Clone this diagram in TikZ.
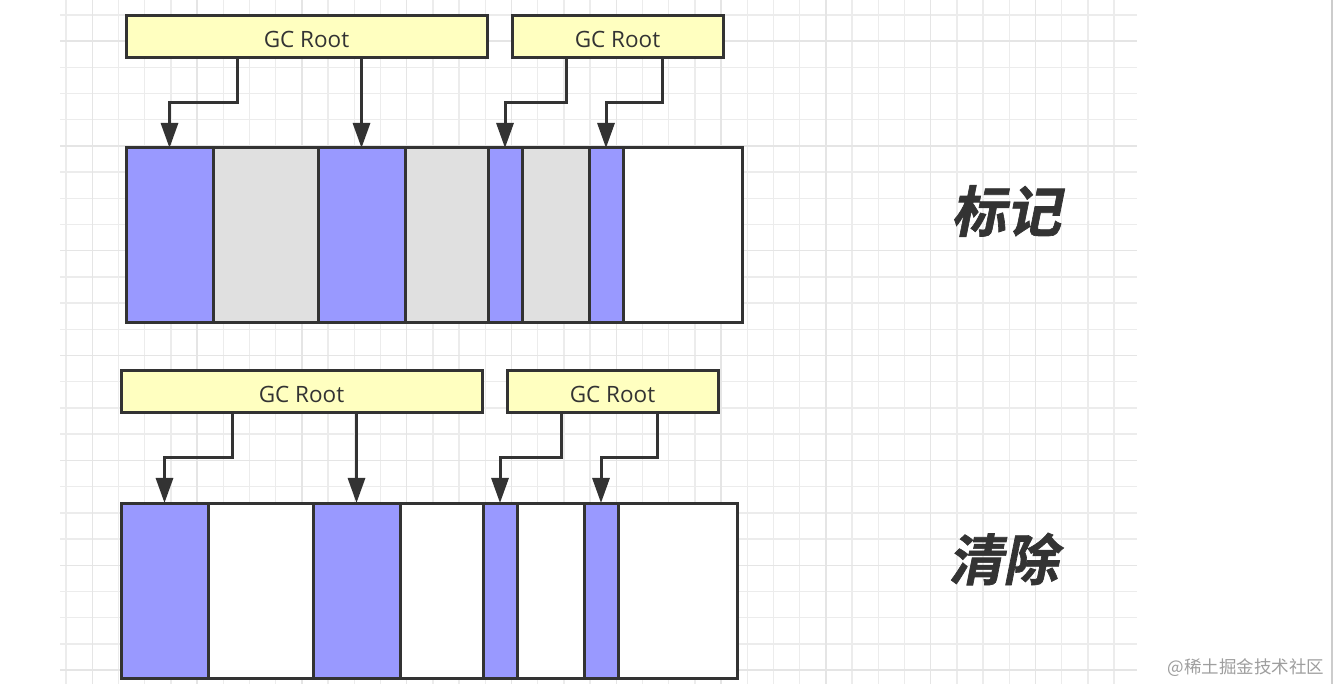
\documentclass[tikz,border=0pt]{standalone}
\usepackage{fontspec}
\setmainfont{Open Sans}
\newfontfamily\cjk{Noto Sans CJK SC}
\newfontfamily\cjktitle[FakeSlant=0.2,FakeBold=1.2]{Noto Sans CJK SC Bold}
\usetikzlibrary{arrows.meta}
\definecolor{strk}{HTML}{333333}
\definecolor{liveblue}{HTML}{9999FF}
\definecolor{deadgray}{HTML}{E0E0E0}
\definecolor{rootyellow}{HTML}{FFFFC0}
\definecolor{gridminor}{RGB}{236,236,236}
\definecolor{gridmajor}{RGB}{229,229,229}
\begin{document}
\begin{tikzpicture}[x=1pt,y=-1pt,
  seg/.style={draw=strk,line width=3pt,inner sep=0pt,outer sep=0pt,minimum height=175pt},
  live/.style={seg,fill=liveblue},
  dead/.style={seg,fill=deadgray},
  free/.style={seg,fill=white},
  root/.style={draw=strk,line width=3pt,fill=rootyellow,inner sep=0pt,outer sep=0pt,
    minimum height=42pt,text height=22pt,text depth=0pt,text=strk,font=\fontsize{22.5}{26}\selectfont},
  ref/.style={draw=strk,line width=3pt,-{Triangle[length=25pt,width=17pt]}},
  phase/.style={text=strk,font=\cjktitle\fontsize{55}{60}\selectfont},
  gridline/.style={draw=gridminor,line width=1.4pt},
  gridmaj/.style={draw=gridmajor,line width=1.4pt}]
\useasboundingbox (0,0) rectangle (1334,684);
\fill[white] (0,0) rectangle (1334,684);
% grid
\foreach \k in {0,...,40} \draw[gridline] ({66+26.2*\k},0) -- ({66+26.2*\k},684);
\foreach \k in {0,...,25} \draw[gridline] (60,{15+26.2*\k}) -- (1137,{15+26.2*\k});
\foreach \k in {1,5,...,37} \draw[gridmaj] ({66+26.2*\k},0) -- ({66+26.2*\k},684);
\foreach \k in {1,5,...,25} \draw[gridmaj] (60,{15+26.2*\k}) -- (1137,{15+26.2*\k});
\draw[gray!40,line width=2pt] (1332,0) -- (1332,684);

% ---- mark phase ----
\node[root,minimum width=361pt] (g1) at (306.5,37) {GC Root};
\node[root,minimum width=211pt] (g2) at (617.5,37) {GC Root};
\node[live,minimum width=87pt]  (t1) at (169.5,235.5) {};
\node[dead,minimum width=105pt] (t2) at (265.5,235.5) {};
\node[live,minimum width=87pt]  (t3) at (361.5,235.5) {};
\node[dead,minimum width=83pt]  (t4) at (446.5,235.5) {};
\node[live,minimum width=34pt]  (t5) at (505,235.5) {};
\node[dead,minimum width=67pt]  (t6) at (555.5,235.5) {};
\node[live,minimum width=34pt]  (t7) at (606,235.5) {};
\node[free,minimum width=119pt] (t8) at (682.5,235.5) {};
\draw[ref] ([xshift=111pt]g1.south west) -- ++(0,45) -| (t1.north);
\draw[ref] (g1.south -| t3.north) -- (t3.north);
\draw[ref] ([xshift=54pt]g2.south west) -- ++(0,45) -| (t5.north);
\draw[ref] ([xshift=150pt]g2.south west) -- ++(0,45) -| (t7.north);
\node[phase] (mark) at (1006,211) {标记};

% ---- sweep phase ----
\node[root,minimum width=361pt] (g3) at (301.5,392) {GC Root};
\node[root,minimum width=211pt] (g4) at (612.5,392) {GC Root};
\node[live,minimum width=87pt]  (b1) at (164.5,590.5) {};
\node[free,minimum width=105pt] (b2) at (260.5,590.5) {};
\node[live,minimum width=87pt]  (b3) at (356.5,590.5) {};
\node[free,minimum width=83pt]  (b4) at (441.5,590.5) {};
\node[live,minimum width=34pt]  (b5) at (500,590.5) {};
\node[free,minimum width=67pt]  (b6) at (550.5,590.5) {};
\node[live,minimum width=34pt]  (b7) at (601,590.5) {};
\node[free,minimum width=119pt] (b8) at (677.5,590.5) {};
\draw[ref] ([xshift=111pt]g3.south west) -- ++(0,45) -| (b1.north);
\draw[ref] (g3.south -| b3.north) -- (b3.north);
\draw[ref] ([xshift=54pt]g4.south west) -- ++(0,45) -| (b5.north);
\draw[ref] ([xshift=150pt]g4.south west) -- ++(0,45) -| (b7.north);
\node[phase] (sweep) at (1003,559) {清除};

\node[anchor=east,text=black!38,font=\cjk\fontsize{17.5}{20}\selectfont] (wm) at (1328,668) {@稀土掘金技术社区};
\end{tikzpicture}
\end{document}
